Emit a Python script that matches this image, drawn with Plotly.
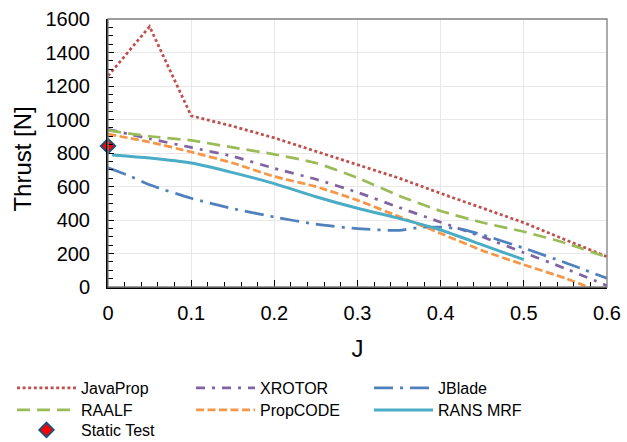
import plotly.graph_objects as go

# ---- data ----
J_common = [0, 0.05, 0.1, 0.15, 0.2, 0.25, 0.3, 0.35, 0.4, 0.45, 0.5, 0.55, 0.6]
javaprop = [1260, 1555, 1022, 960, 890, 810, 730, 650, 559, 471, 384, 282, 181]
xrotor = [942, 885, 833, 780, 708, 643, 565, 475, 387, 300, 205, 110, 8]
raalf = [935, 900, 875, 833, 792, 740, 652, 545, 454, 385, 330, 262, 178]
propcode = [913, 865, 806, 740, 660, 599, 518, 420, 320, 218, 133, 52, -45]

J_jblade = [0, 0.025, 0.05, 0.1, 0.15, 0.2, 0.25, 0.3, 0.35, 0.375, 0.4, 0.425, 0.45, 0.5, 0.55, 0.6]
jblade = [712, 665, 610, 530, 468, 418, 375, 348, 338, 356, 357, 346, 312, 232, 145, 52]

J_rans = [0.005, 0.05, 0.1, 0.15, 0.2, 0.25, 0.3, 0.35, 0.4, 0.45, 0.5]
rans = [788, 770, 740, 683, 617, 539, 470, 410, 340, 252, 163]

J_static = [0]
static_test = [842]

x_ticks = [0, 0.1, 0.2, 0.3, 0.4, 0.5, 0.6]
y_ticks = [0, 200, 400, 600, 800, 1000, 1200, 1400, 1600]

x_title = "J"
y_title = "Thrust [N]"

FONT = "Arial, 'Liberation Sans', sans-serif"

fig = go.Figure()

# legend slots (column start px, row centre px) -> one legend per entry
slots = {
    "legend": (17, 388), "legend2": (196, 388), "legend3": (374, 388),
    "legend4": (17, 410), "legend5": (196, 410), "legend6": (374, 410),
    "legend7": (17, 430),
}

# name, x, y, colour, dash, shape, legend slot
series = [
    ("JavaProp", J_common, javaprop, "#C0504D", "3px,2.6px", "linear", "legend"),
    ("XROTOR", J_common, xrotor, "#8064A2", "9px,7px,3px,7px", "spline", "legend2"),
    ("JBlade", J_jblade, jblade, "#4F81BD", "19px,7px,3px,7px", "spline", "legend3"),
    ("RAALF", J_common, raalf, "#9BBB59", "13px,7px", "spline", "legend4"),
    ("PropCODE", J_common, propcode, "#F79646", "8px,3.5px", "spline", "legend5"),
    ("RANS MRF", J_rans, rans, "#4BACC6", "solid", "spline", "legend6"),
]
for name, xs, ys, col, dash, shape, leg in series:
    fig.add_trace(go.Scatter(
        x=xs, y=ys, name=name, mode="lines", legend=leg,
        line=dict(color=col, width=3 if name == "RANS MRF" else 2.75, dash=dash,
                  shape=shape, smoothing=0.6 if shape == "spline" else None),
    ))

fig.add_trace(go.Scatter(
    x=J_static, y=static_test, name="Static Test", mode="markers", legend="legend7",
    marker=dict(symbol="diamond", size=11, color="#FF0000",
                line=dict(color="#1F4E79", width=2)),
    cliponaxis=False,
))

def leg(xs, yc):
    return dict(
        orientation="v", xref="container", yref="container",
        x=(xs - 5) / 627, xanchor="left", y=1 - yc / 442, yanchor="middle",
        itemwidth=59,
        font=dict(size=16, family=FONT, color="#000000"), bgcolor="rgba(0,0,0,0)",
    )

fig.update_layout(
    width=627, height=442,
    margin=dict(l=108, r=20, t=19, b=155, autoexpand=False),
    paper_bgcolor="white", plot_bgcolor="white",
    font=dict(family=FONT, color="#000000"),
    showlegend=True,
    shapes=[dict(type="rect", xref="paper", yref="paper", x0=0, x1=1, y0=0, y1=1,
                 line=dict(color="#7F7F7F", width=1.3), layer="above")],
    annotations=[dict(text=y_title, textangle=-90, xref="paper", yref="paper",
                      x=-0.171, y=0.478, xanchor="center", yanchor="middle",
                      showarrow=False, font=dict(size=24, family=FONT, color="#000000"))],
)
fig.update_layout({k: leg(*v) for k, v in slots.items()})

fig.update_xaxes(
    range=[0, 0.6], tickvals=x_ticks, ticktext=[str(v) if v else "0" for v in x_ticks],
    ticks="inside", ticklen=7, tickwidth=1, tickcolor="#000000",
    showline=True, linecolor="#000000", linewidth=2,
    showgrid=True, gridcolor="#E8E8E8", gridwidth=1, zeroline=False,
    minor=dict(dtick=0.02, tick0=0, ticks="inside", ticklen=5, tickcolor="#000000", showgrid=False),
    tickfont=dict(size=20, family=FONT), ticklabelstandoff=7,
    title=dict(text=x_title, font=dict(size=24, family=FONT), standoff=17),
)
fig.update_yaxes(
    range=[0, 1600], tickvals=y_ticks,
    ticks="inside", ticklen=6, tickwidth=1, tickcolor="#000000",
    showline=True, linecolor="#000000", linewidth=2,
    showgrid=True, gridcolor="#E8E8E8", gridwidth=1, zeroline=False,
    minor=dict(dtick=50, tick0=0, ticks="inside", ticklen=5, tickcolor="#000000", showgrid=False),
    tickfont=dict(size=20, family=FONT), ticklabelstandoff=12,
)

fig.write_html("out.html")
